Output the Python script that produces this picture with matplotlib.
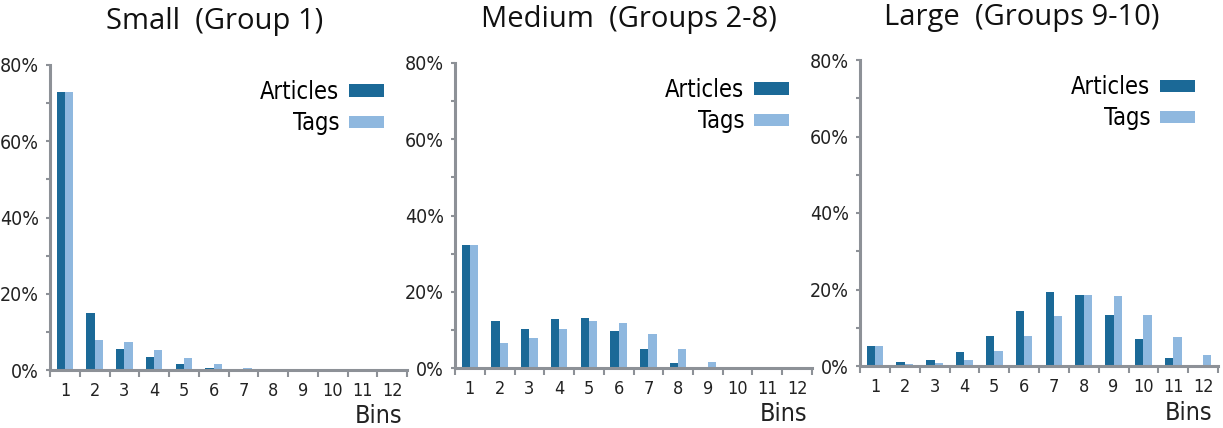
import matplotlib
matplotlib.use("Agg")
import matplotlib.pyplot as plt
import numpy as np

# 各组文章/标签在 12 个分箱中的占比(%)
BINS = list(range(1, 13))
SMALL_ARTICLES = [72.8, 15.0, 5.6, 3.5, 1.5, 0.5, 0.0, 0.0, 0.0, 0.0, 0.0, 0.0]
SMALL_TAGS = [72.8, 8.0, 7.3, 5.2, 3.1, 1.5, 0.4, 0.0, 0.0, 0.0, 0.0, 0.0]
MEDIUM_ARTICLES = [32.3, 12.4, 10.3, 12.8, 13.1, 9.6, 5.1, 1.2, 0.0, 0.0, 0.0, 0.0]
MEDIUM_TAGS = [32.3, 6.5, 8.0, 10.3, 12.4, 11.7, 8.9, 5.1, 1.7, 0.0, 0.0, 0.0]
LARGE_ARTICLES = [5.3, 1.1, 1.5, 3.6, 7.9, 14.4, 19.3, 18.5, 13.4, 7.1, 2.2, 0.0]
LARGE_TAGS = [5.3, 0.5, 0.9, 1.6, 4.0, 7.8, 13.1, 18.5, 18.2, 13.4, 7.5, 3.0]
TITLES = ["Small  (Group 1)", "Medium  (Groups 2-8)", "Large  (Groups 9-10)"]

DARK = "#1b6997"
LIGHT = "#8fb8df"
AXIS_GRAY = "#8d9197"
TEXT = "#222222"
NARROW = dict(family="DejaVu Sans", stretch="condensed")

W, H = 1223, 428
# 每个子图的像素位置:左边、0% 所在行、右边、80% 所在行
PANELS = [(50, 370, 407, 65), (455, 368, 812, 63), (860, 366, 1218, 60)]
# 标题中心的像素位置
TITLE_XY = [(215, 22), (629, 20), (1022, 17)]


def draw_panel(ax, articles, tags):
    x = np.array(BINS)
    bw = 0.28
    ax.bar(x - bw / 2, articles, width=bw, color=DARK, label="Articles")
    ax.bar(x + bw / 2, tags, width=bw, color=LIGHT, label="Tags")

    ax.set_xlim(0.5, 12.5)
    ax.set_ylim(0, 80)
    for side in ("top", "right"):
        ax.spines[side].set_visible(False)
    for side in ("left", "bottom"):
        ax.spines[side].set_color(AXIS_GRAY)
        ax.spines[side].set_linewidth(2.2)

    ax.set_yticks(range(0, 81, 20))
    ax.set_yticklabels([f"{v}%" for v in range(0, 81, 20)], fontsize=14, **NARROW)
    ax.set_yticks(range(10, 80, 20), minor=True)
    ax.tick_params(axis="y", which="both", direction="out", length=3, width=1.5,
                   color=AXIS_GRAY, pad=5, labelcolor=TEXT)

    # 刻度线画在分箱边界上,标签放在分箱中间
    ax.set_xticks(np.arange(0.5, 13.0, 1.0))
    ax.set_xticklabels([])
    ax.set_xticks(x, minor=True)
    ax.set_xticklabels([str(b) for b in BINS], minor=True, fontsize=13, **NARROW)
    ax.tick_params(axis="x", which="minor", length=0, pad=9, labelcolor=TEXT)
    ax.tick_params(axis="x", which="major", direction="out", length=5, width=1.5,
                   color=AXIS_GRAY)

    ax.text(0.919, -0.152, "Bins", transform=ax.transAxes, ha="center", va="center",
            fontsize=18, color=TEXT, **NARROW)

    ax.legend(loc="upper right", bbox_to_anchor=(0.936, 0.95), frameon=False,
              markerfirst=False, alignment="right",
              prop=dict(size=17, **NARROW),
              handlelength=1.5, handleheight=0.45, handletextpad=0.4,
              labelspacing=0.3, borderpad=0, borderaxespad=0)


fig = plt.figure(figsize=(W / 100, H / 100), dpi=100)
data = [(SMALL_ARTICLES, SMALL_TAGS), (MEDIUM_ARTICLES, MEDIUM_TAGS),
        (LARGE_ARTICLES, LARGE_TAGS)]
for (l, b, r, t), (art, tag), title, (tx, ty) in zip(PANELS, data, TITLES, TITLE_XY):
    ax = fig.add_axes([l / W, 1 - b / H, (r - l) / W, (b - t) / H])
    draw_panel(ax, art, tag)
    fig.text(tx / W, 1 - ty / H, title, ha="center", va="center",
             family=["Open Sans", "DejaVu Sans"], fontsize=21, color="#111111")

fig.savefig("out.png", dpi=100)
